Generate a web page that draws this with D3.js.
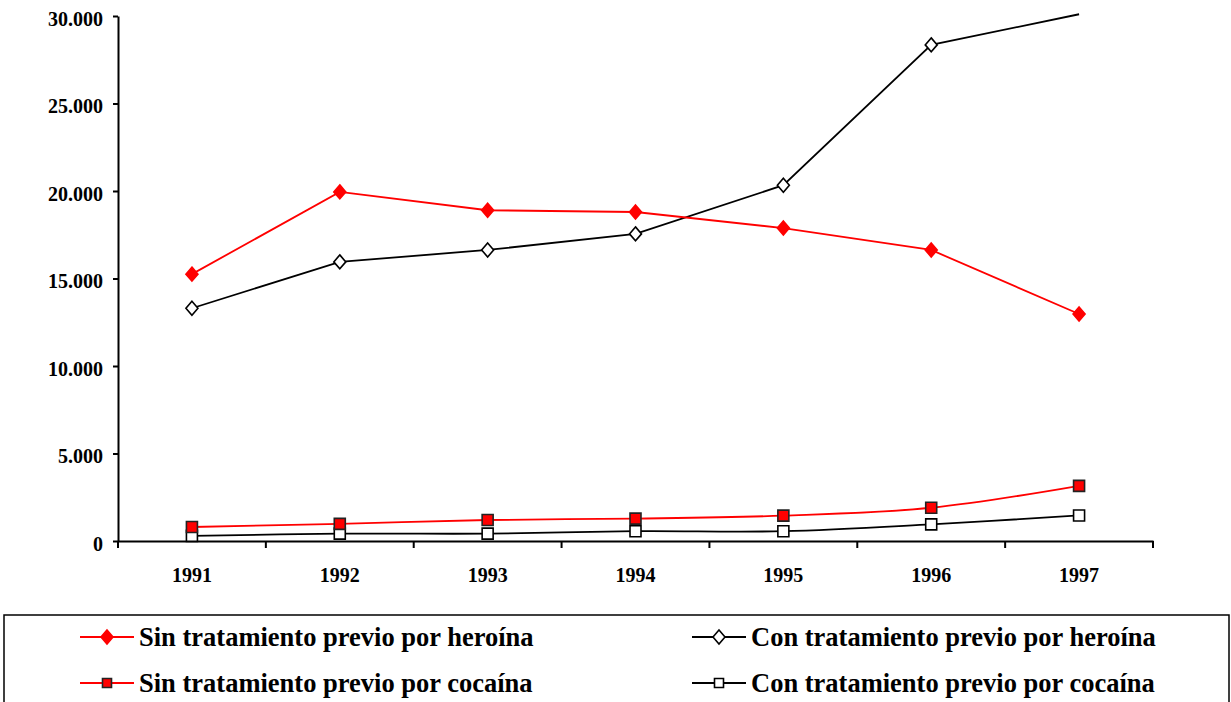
<!DOCTYPE html>
<html lang="es">
<head>
  <meta charset="UTF-8">
  <title>Tratamiento previo por heroína y cocaína 1991-1997</title>
  <script src="https://d3js.org/d3.v7.min.js"></script>
  <style>
    body { margin: 0; background: white; }
    svg { display: block; }
    svg text { font-family: "Liberation Serif", "Times New Roman", serif; font-weight: bold; }
  </style>
</head>
<body>
  <div id="chart"></div>
  <script>
    // data
    var years = ["1991", "1992", "1993", "1994", "1995", "1996", "1997"];
    var sinHeroina = [15250, 19950, 18900, 18800, 17880, 16630, 12970];
    var conHeroina = [13300, 15950, 16630, 17550, 20330, 28350, 30100];
    var sinCocaina = [800, 980, 1200, 1280, 1450, 1900, 3150];
    var conCocaina = [290, 420, 420, 560, 560, 950, 1460];
    var yTicks = [0, 5000, 10000, 15000, 20000, 25000, 30000];

    var width = 1231, height = 702;
    var svg = d3.select("#chart").append("svg")
      .attr("width", width)
      .attr("height", height);

    var x = d3.scaleBand().domain(years).range([118, 1153]);
    var y = d3.scaleLinear().domain([0, 30000]).range([541, 16]);

    var locale = d3.formatLocale({ decimal: ",", thousands: ".", grouping: [3], currency: ["", "€"] });
    var fmt = locale.format(",");

    // y axis
    var yAxis = svg.append("g")
      .attr("transform", "translate(118,0)")
      .call(d3.axisLeft(y).tickValues(yTicks).tickSize(5).tickSizeOuter(0).tickPadding(10).tickFormat(fmt));
    yAxis.attr("font-family", null).attr("font-size", 20);
    yAxis.select(".domain").attr("stroke-width", 2);
    yAxis.selectAll(".tick line").attr("stroke-width", 2);
    yAxis.selectAll("text").attr("dy", "0.47em").attr("fill", "black");

    // x axis: labels at band centres, ticks at band edges
    var xAxis = svg.append("g")
      .attr("transform", "translate(0,541)")
      .call(d3.axisBottom(x).tickSize(0).tickSizeOuter(0).tickPadding(27));
    xAxis.attr("font-family", null).attr("font-size", 20);
    xAxis.select(".domain").attr("stroke-width", 2);
    xAxis.selectAll("text").attr("fill", "black");
    var edges = years.map(function (d) { return x(d); }).concat([x.range()[1]]);
    xAxis.selectAll(".edge").data(edges).join("line")
      .attr("class", "edge")
      .attr("x1", function (d) { return d; })
      .attr("x2", function (d) { return d; })
      .attr("y1", 0).attr("y2", 7)
      .attr("stroke", "black").attr("stroke-width", 2);

    var cx = function (i) { return x(years[i]) + x.bandwidth() / 2; };

    var series = [
      { name: "Sin tratamiento previo por heroína", values: sinHeroina, color: "#ff0000", marker: "diamond", fill: "#ff0000", mstroke: "#ff0000", curve: d3.curveLinear },
      { name: "Con tratamiento previo por heroína", values: conHeroina, color: "black", marker: "diamond", fill: "white", mstroke: "black", curve: d3.curveLinear },
      { name: "Sin tratamiento previo por cocaína", values: sinCocaina, color: "#ff0000", marker: "square", fill: "#ff0000", mstroke: "#222", curve: d3.curveCatmullRom.alpha(0) },
      { name: "Con tratamiento previo por cocaína", values: conCocaina, color: "black", marker: "square", fill: "white", mstroke: "black", curve: d3.curveCatmullRom.alpha(0) }
    ];

    function markerPath(type, r) {
      if (type == "diamond") return "M0," + (-r - 1) + "L" + r + ",0L0," + (r + 1) + "L" + (-r) + ",0Z";
      return "M" + (-r) + "," + (-r) + "H" + r + "V" + r + "H" + (-r) + "Z";
    }

    // draw order: cocaine first, heroin on top
    [3, 2, 1, 0].forEach(function (k) {
      var s = series[k];
      var line = d3.line()
        .x(function (d, i) { return cx(i); })
        .y(function (d) { return y(d); })
        .curve(s.curve);
      svg.append("path")
        .attr("d", line(s.values))
        .attr("fill", "none")
        .attr("stroke", s.color)
        .attr("stroke-width", 1.8);
      s.values.forEach(function (v, i) {
        if (v > y.domain()[1]) return; // Excel drops markers beyond the axis max
        svg.append("path")
          .attr("d", markerPath(s.marker, s.marker == "diamond" ? 6 : 5.5))
          .attr("transform", "translate(" + cx(i) + "," + y(v) + ")")
          .attr("fill", s.fill)
          .attr("stroke", s.mstroke)
          .attr("stroke-width", 1.6);
      });
    });

    // legend
    svg.append("rect")
      .attr("x", 4).attr("y", 615)
      .attr("width", 1225).attr("height", 120)
      .attr("fill", "white")
      .attr("stroke", "black")
      .attr("stroke-width", 1.5);

    var legendPos = [
      { s: 0, x: 80, y: 637 },
      { s: 1, x: 692, y: 637 },
      { s: 2, x: 80, y: 683 },
      { s: 3, x: 692, y: 683 }
    ];
    legendPos.forEach(function (p) {
      var s = series[p.s];
      var g = svg.append("g").attr("transform", "translate(" + p.x + "," + p.y + ")");
      g.append("line").attr("x1", 0).attr("x2", 54).attr("y1", 0).attr("y2", 0)
        .attr("stroke", s.color).attr("stroke-width", 1.8);
      g.append("path")
        .attr("d", markerPath(s.marker, s.marker == "diamond" ? 6 : 4.5))
        .attr("transform", "translate(27,0)")
        .attr("fill", s.fill)
        .attr("stroke", s.mstroke)
        .attr("stroke-width", 1.6);
      g.append("text")
        .attr("x", 59).attr("y", 0).attr("dy", "0.33em")
        .attr("font-size", 26.5)
        .attr("fill", "black")
        .text(s.name);
    });
  </script>
</body>
</html>
